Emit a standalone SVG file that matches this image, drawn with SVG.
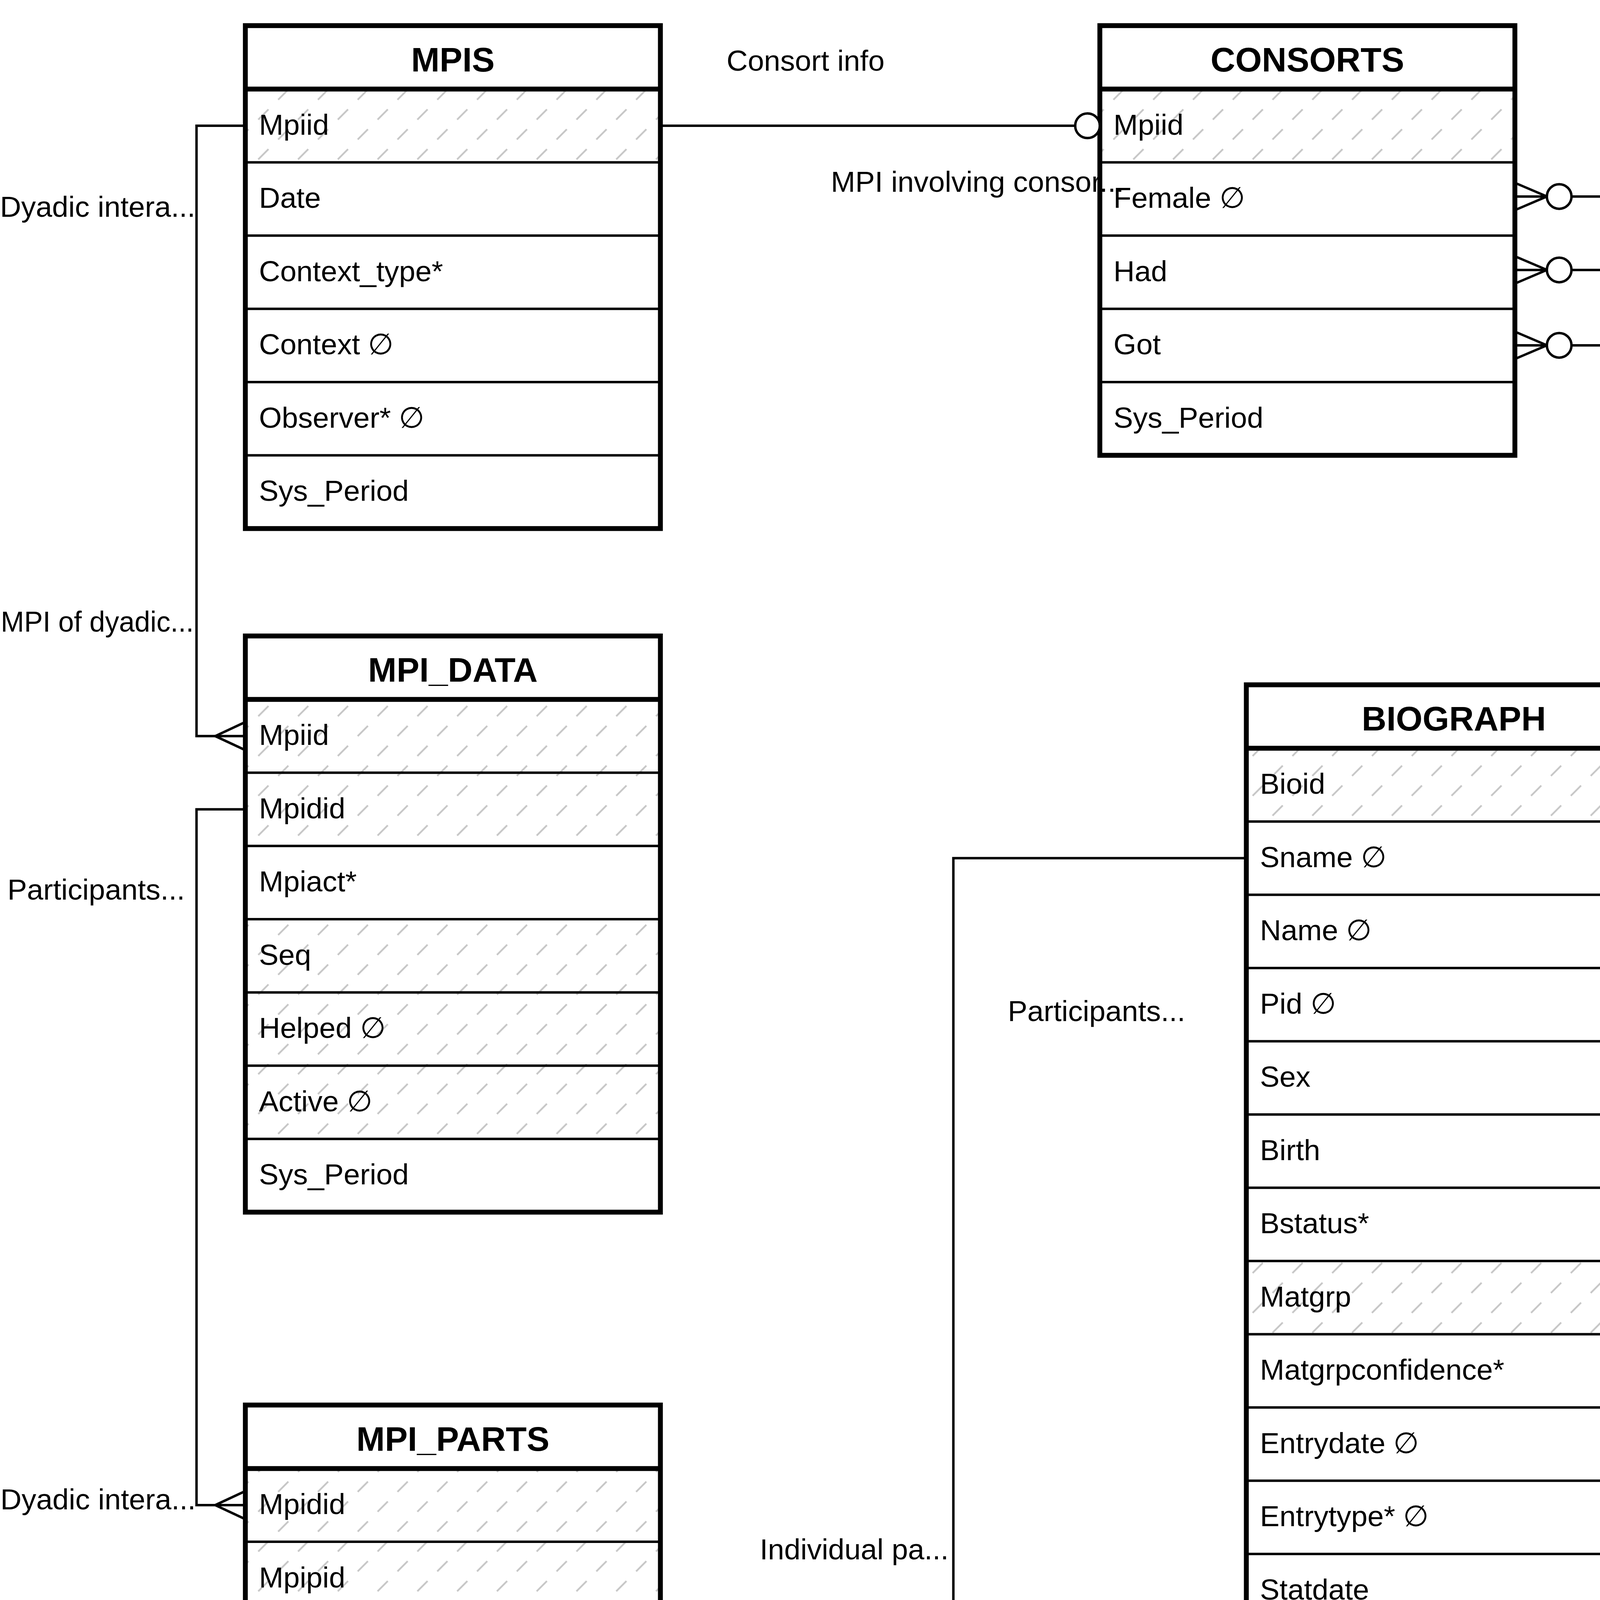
<svg xmlns="http://www.w3.org/2000/svg" width="5169" height="5669" viewBox="0 0 5169 5669">
<defs>
<pattern id="hatch" patternUnits="userSpaceOnUse" width="72" height="72" patternTransform="rotate(45)">
<line x1="36" y1="0" x2="36" y2="37" stroke="#c6c6c6" stroke-width="4.5"/>
</pattern>
<style>
.bg{fill:#fff;stroke:none}
.h{fill:url(#hatch);stroke:none}
.border{fill:none;stroke:#000;stroke-width:12.5}
.sep{stroke:#000;stroke-width:6.25}
.hsep{stroke:#000;stroke-width:12.5}
text{font-family:"Liberation Sans",Arial,Helvetica,sans-serif;font-size:75px;fill:#000}
.hdr{font-weight:bold;font-size:87.5px;text-anchor:middle}
.edge{fill:none;stroke:#000;stroke-width:6.25;stroke-linejoin:miter}
.circ{fill:#fff;stroke:#000;stroke-width:6.25}
</style>
</defs>
<rect x="0" y="0" width="5169" height="5669" fill="#fff"/>

<g id="MPIS">
<rect class="bg" x="628.1" y="65.6" width="1062.5" height="1287.5"/>
<rect class="h" x="628.1" y="228.1" width="1062.5" height="187.5"/>
<line class="sep" x1="628.1" y1="415.6" x2="1690.6" y2="415.6"/>
<line class="sep" x1="628.1" y1="603.1" x2="1690.6" y2="603.1"/>
<line class="sep" x1="628.1" y1="790.6" x2="1690.6" y2="790.6"/>
<line class="sep" x1="628.1" y1="978.1" x2="1690.6" y2="978.1"/>
<line class="sep" x1="628.1" y1="1165.6" x2="1690.6" y2="1165.6"/>
<line class="hsep" x1="628.1" y1="228.1" x2="1690.6" y2="228.1"/>
<rect class="border" x="628.1" y="65.6" width="1062.5" height="1287.5"/>
<text class="hdr" x="1159.4" y="182.6">MPIS</text>
<text x="663" y="344.9">Mpiid</text>
<text x="663" y="532.4">Date</text>
<text x="663" y="719.9">Context_type*</text>
<text x="663" y="907.4">Context ∅</text>
<text x="663" y="1094.9">Observer* ∅</text>
<text x="663" y="1282.4">Sys_Period</text>
</g>

<g id="CONSORTS">
<rect class="bg" x="2815.6" y="65.6" width="1062.5" height="1100"/>
<rect class="h" x="2815.6" y="228.1" width="1062.5" height="187.5"/>
<line class="sep" x1="2815.6" y1="415.6" x2="3878.1" y2="415.6"/>
<line class="sep" x1="2815.6" y1="603.1" x2="3878.1" y2="603.1"/>
<line class="sep" x1="2815.6" y1="790.6" x2="3878.1" y2="790.6"/>
<line class="sep" x1="2815.6" y1="978.1" x2="3878.1" y2="978.1"/>
<line class="hsep" x1="2815.6" y1="228.1" x2="3878.1" y2="228.1"/>
<rect class="border" x="2815.6" y="65.6" width="1062.5" height="1100"/>
<text class="hdr" x="3346.9" y="182.6">CONSORTS</text>
<text x="2850.6" y="344.9">Mpiid</text>
<text x="2850.6" y="532.4">Female ∅</text>
<text x="2850.6" y="719.9">Had</text>
<text x="2850.6" y="907.4">Got</text>
<text x="2850.6" y="1094.9">Sys_Period</text>
</g>

<g id="MPI_DATA">
<rect class="bg" x="628.1" y="1628.1" width="1062.5" height="1475"/>
<rect class="h" x="628.1" y="1790.6" width="1062.5" height="375"/>
<rect class="h" x="628.1" y="2353.1" width="1062.5" height="562.5"/>
<line class="sep" x1="628.1" y1="1978.1" x2="1690.6" y2="1978.1"/>
<line class="sep" x1="628.1" y1="2165.6" x2="1690.6" y2="2165.6"/>
<line class="sep" x1="628.1" y1="2353.1" x2="1690.6" y2="2353.1"/>
<line class="sep" x1="628.1" y1="2540.6" x2="1690.6" y2="2540.6"/>
<line class="sep" x1="628.1" y1="2728.1" x2="1690.6" y2="2728.1"/>
<line class="sep" x1="628.1" y1="2915.6" x2="1690.6" y2="2915.6"/>
<line class="hsep" x1="628.1" y1="1790.6" x2="1690.6" y2="1790.6"/>
<rect class="border" x="628.1" y="1628.1" width="1062.5" height="1475"/>
<text class="hdr" x="1159.4" y="1745.1">MPI_DATA</text>
<text x="663" y="1907.4">Mpiid</text>
<text x="663" y="2094.9">Mpidid</text>
<text x="663" y="2282.4">Mpiact*</text>
<text x="663" y="2469.9">Seq</text>
<text x="663" y="2657.4">Helped ∅</text>
<text x="663" y="2844.9">Active ∅</text>
<text x="663" y="3032.4">Sys_Period</text>
</g>

<g id="MPI_PARTS">
<rect class="bg" x="628.1" y="3596.9" width="1062.5" height="1287.5"/>
<rect class="h" x="628.1" y="3759.4" width="1062.5" height="375"/>
<line class="sep" x1="628.1" y1="3946.9" x2="1690.6" y2="3946.9"/>
<line class="sep" x1="628.1" y1="4134.4" x2="1690.6" y2="4134.4"/>
<line class="sep" x1="628.1" y1="4321.9" x2="1690.6" y2="4321.9"/>
<line class="sep" x1="628.1" y1="4509.4" x2="1690.6" y2="4509.4"/>
<line class="sep" x1="628.1" y1="4696.9" x2="1690.6" y2="4696.9"/>
<line class="hsep" x1="628.1" y1="3759.4" x2="1690.6" y2="3759.4"/>
<rect class="border" x="628.1" y="3596.9" width="1062.5" height="1287.5"/>
<text class="hdr" x="1159.4" y="3713.9">MPI_PARTS</text>
<text x="663" y="3876.1">Mpidid</text>
<text x="663" y="4063.6">Mpipid</text>
<text x="663" y="4251.1">Sname ∅</text>
<text x="663" y="4438.6">Unksname* ∅</text>
<text x="663" y="4626.1">Role</text>
<text x="663" y="4813.6">Sys_Period</text>
</g>

<g id="BIOGRAPH">
<rect class="bg" x="3190.6" y="1753.1" width="1062.5" height="3912.5"/>
<rect class="h" x="3190.6" y="1915.6" width="1062.5" height="187.5"/>
<rect class="h" x="3190.6" y="3228.1" width="1062.5" height="187.5"/>
<rect class="h" x="3190.6" y="4353.1" width="1062.5" height="750"/>
<line class="sep" x1="3190.6" y1="2103.1" x2="4253.1" y2="2103.1"/>
<line class="sep" x1="3190.6" y1="2290.6" x2="4253.1" y2="2290.6"/>
<line class="sep" x1="3190.6" y1="2478.1" x2="4253.1" y2="2478.1"/>
<line class="sep" x1="3190.6" y1="2665.6" x2="4253.1" y2="2665.6"/>
<line class="sep" x1="3190.6" y1="2853.1" x2="4253.1" y2="2853.1"/>
<line class="sep" x1="3190.6" y1="3040.6" x2="4253.1" y2="3040.6"/>
<line class="sep" x1="3190.6" y1="3228.1" x2="4253.1" y2="3228.1"/>
<line class="sep" x1="3190.6" y1="3415.6" x2="4253.1" y2="3415.6"/>
<line class="sep" x1="3190.6" y1="3603.1" x2="4253.1" y2="3603.1"/>
<line class="sep" x1="3190.6" y1="3790.6" x2="4253.1" y2="3790.6"/>
<line class="sep" x1="3190.6" y1="3978.1" x2="4253.1" y2="3978.1"/>
<line class="sep" x1="3190.6" y1="4165.6" x2="4253.1" y2="4165.6"/>
<line class="sep" x1="3190.6" y1="4353.1" x2="4253.1" y2="4353.1"/>
<line class="sep" x1="3190.6" y1="4540.6" x2="4253.1" y2="4540.6"/>
<line class="sep" x1="3190.6" y1="4728.1" x2="4253.1" y2="4728.1"/>
<line class="sep" x1="3190.6" y1="4915.6" x2="4253.1" y2="4915.6"/>
<line class="sep" x1="3190.6" y1="5103.1" x2="4253.1" y2="5103.1"/>
<line class="sep" x1="3190.6" y1="5290.6" x2="4253.1" y2="5290.6"/>
<line class="sep" x1="3190.6" y1="5478.1" x2="4253.1" y2="5478.1"/>
<line class="hsep" x1="3190.6" y1="1915.6" x2="4253.1" y2="1915.6"/>
<rect class="border" x="3190.6" y="1753.1" width="1062.5" height="3910"/>
<text class="hdr" x="3721.9" y="1870.1">BIOGRAPH</text>
<text x="3225.6" y="2032.4">Bioid</text>
<text x="3225.6" y="2219.9">Sname ∅</text>
<text x="3225.6" y="2407.4">Name ∅</text>
<text x="3225.6" y="2594.9">Pid ∅</text>
<text x="3225.6" y="2782.4">Sex</text>
<text x="3225.6" y="2969.9">Birth</text>
<text x="3225.6" y="3157.4">Bstatus*</text>
<text x="3225.6" y="3344.9">Matgrp</text>
<text x="3225.6" y="3532.4">Matgrpconfidence*</text>
<text x="3225.6" y="3719.9">Entrydate ∅</text>
<text x="3225.6" y="3907.4">Entrytype* ∅</text>
<text x="3225.6" y="4094.9">Statdate</text>
<text x="3225.6" y="4282.4">Status*</text>
<text x="3225.6" y="4469.9">Dcause*</text>
<text x="3225.6" y="4657.4">DcauseNatureConfidence*</text>
<text x="3225.6" y="4844.9">DcauseAgentConfidence*</text>
<text x="3225.6" y="5032.4">Alt_Snames</text>
<text x="3225.6" y="5219.9">EarliestBirth ∅</text>
<text x="3225.6" y="5407.4">LatestBirth ∅</text>
<text x="3225.6" y="5594.9">Sys_Period</text>
</g>

<g id="connectors">
<g id="e-mpis-mpidata">
<path class="edge" d="M628.1,321.9 H503.1 V1884.4 H628.1"/>
<path class="edge" d="M628.1,1848.4 L551,1884.4 L628.1,1920.4"/>
<text x="0" y="555">Dyadic intera...</text>
<text x="2" y="1617" textLength="494" lengthAdjust="spacingAndGlyphs">MPI of dyadic...</text>
</g>
<g id="e-mpidata-mpiparts">
<path class="edge" d="M628.1,2071.9 H503.1 V3853.1 H628.1"/>
<path class="edge" d="M628.1,3817.1 L551,3853.1 L628.1,3889.1"/>
<text x="19" y="2303">Participants...</text>
<text x="1" y="3864">Dyadic intera...</text>
</g>
<g id="e-mpis-consorts">
<path class="edge" d="M1690.6,321.9 H2752.5"/>
<circle class="circ" cx="2784" cy="321.9" r="31.5"/>
<text x="1860" y="181">Consort info</text>
<text x="2127" y="491">MPI involving consor...</text>
</g>
<g id="e-consorts-biograph">
<path class="edge" d="M3878.1,503 H3960 M3878.1,468 L3960,503 L3878.1,538"/>
<path class="edge" d="M3878.1,691 H3960 M3878.1,656 L3960,691 L3878.1,726"/>
<path class="edge" d="M3878.1,884 H3960 M3878.1,849 L3960,884 L3878.1,919"/>
<circle class="circ" cx="3991.5" cy="503" r="31.5"/>
<circle class="circ" cx="3991.5" cy="691" r="31.5"/>
<circle class="circ" cx="3991.5" cy="884" r="31.5"/>
<path class="edge" d="M4023,503 H4440.6 V2196 H4253.1"/>
<path class="edge" d="M4023,691 H4440.6"/>
<path class="edge" d="M4023,884 H4440.6"/>
<path class="edge" d="M4440.6,2190 H4253.1"/>
<text x="4421" y="244" textLength="742" lengthAdjust="spacingAndGlyphs">Female consorted wi...</text>
<text x="4446" y="636">Consorting male bef...</text>
<text x="4455" y="993">Consorting male aft...</text>
<text x="4435" y="2273">Consorting female/...</text>
</g>
<g id="e-mpiparts-biograph">
<path class="edge" d="M1690.6,4228.1 H1770 M1690.6,4192 L1770,4228.1 L1690.6,4264"/>
<circle class="circ" cx="1802" cy="4228.1" r="31.5"/>
<path class="edge" d="M1833.5,4228.1 H2440.6 V2196.9 H3190.6"/>
<text x="2580" y="2614">Participants...</text>
<text x="1945" y="3992">Individual pa...</text>
</g>
</g>
</svg>
